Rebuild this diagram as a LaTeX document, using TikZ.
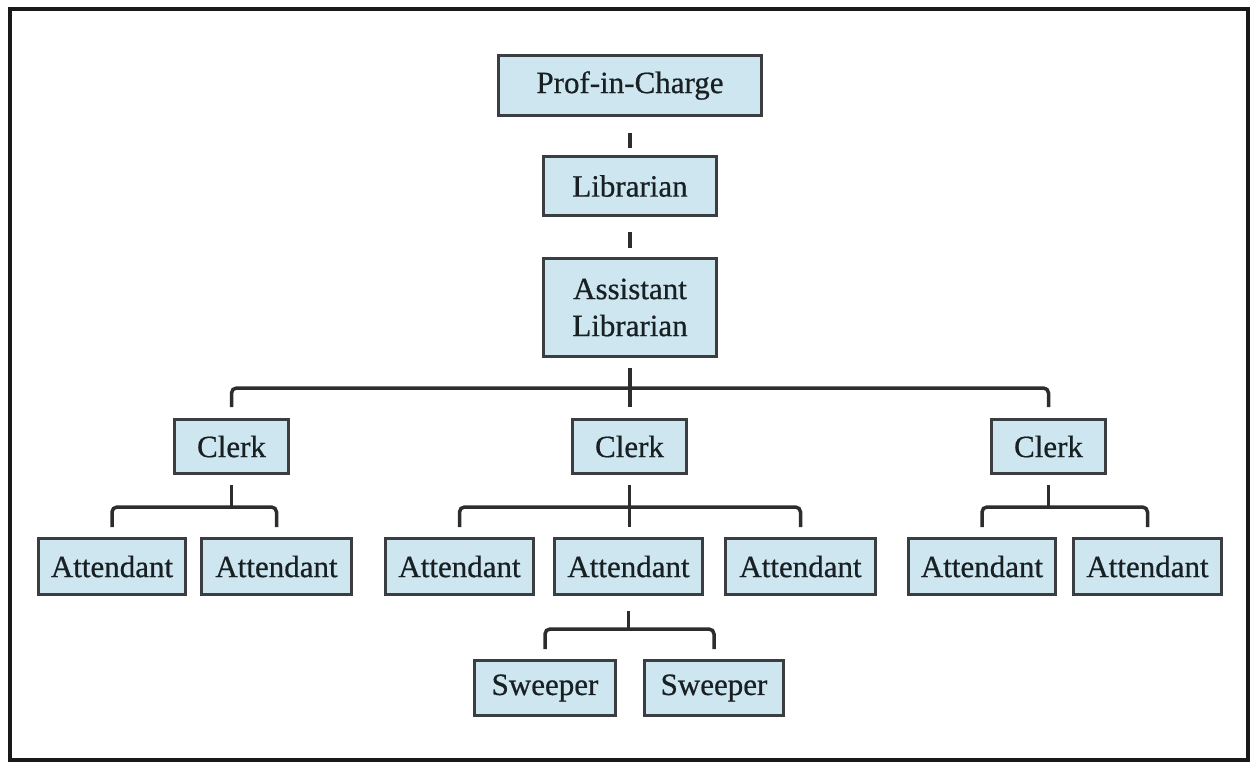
\documentclass[tikz,border=0pt]{standalone}
\usepackage{fontspec}
\setmainfont{Liberation Serif}
\newfontfamily\boxfont[FakeBold=0.6]{Liberation Serif}
\definecolor{boxfill}{RGB}{206,230,239}
\definecolor{boxline}{RGB}{58,62,64}
\definecolor{txt}{RGB}{24,32,36}
\definecolor{conncol}{RGB}{45,45,45}
\begin{document}
\begin{tikzpicture}[x=1pt,y=-1pt,
  orgbox/.style={draw=boxline,fill=boxfill,line width=3pt,inner sep=0pt,
    text=txt,font=\boxfont\fontsize{31}{37}\selectfont,align=center,anchor=center},
  conn/.style={draw=conncol,line width=3.5pt,rounded corners=5pt},
  frame/.style={draw=black!90,line width=4pt}]
\useasboundingbox (0,0) rectangle (1251,764);
\draw[frame] (10,8.5) rectangle (1248,760);
% top chain
\node[orgbox,minimum width=263pt,minimum height=60pt] (prof) at (630,85.5) {Prof-in-Charge};
\node[orgbox,minimum width=173pt,minimum height=59pt] (lib) at (630,186) {Librarian};
\node[orgbox,minimum width=173pt,minimum height=98pt] (asst) at (630,307.5) {Assistant\\Librarian};
% clerks
\node[orgbox,minimum width=114pt,minimum height=54pt] (c1) at (231.5,446.5) {Clerk};
\node[orgbox,minimum width=114pt,minimum height=54pt] (c2) at (629.5,446.5) {Clerk};
\node[orgbox,minimum width=114pt,minimum height=54pt] (c3) at (1048.5,446.5) {Clerk};
% attendants
\node[orgbox,minimum width=147pt,minimum height=56pt] (a1) at (112,566.5) {Attendant};
\node[orgbox,minimum width=150pt,minimum height=56pt] (a2) at (276.5,566.5) {Attendant};
\node[orgbox,minimum width=148pt,minimum height=56pt] (a3) at (459.5,566.5) {Attendant};
\node[orgbox,minimum width=148pt,minimum height=56pt] (a4) at (628.5,566.5) {Attendant};
\node[orgbox,minimum width=150pt,minimum height=56pt] (a5) at (800.5,566.5) {Attendant};
\node[orgbox,minimum width=147pt,minimum height=56pt] (a6) at (982,566.5) {Attendant};
\node[orgbox,minimum width=148pt,minimum height=56pt] (a7) at (1147.5,566.5) {Attendant};
% sweepers
\node[orgbox,minimum width=141pt,minimum height=55pt] (s1) at (545,688) {Sweeper};
\node[orgbox,minimum width=139pt,minimum height=55pt] (s2) at (714,688) {Sweeper};
% connectors
\draw[conn] ([yshift=-16pt]prof.south) -- ([yshift=7pt]lib.north);
\draw[conn] ([yshift=-15pt]lib.south) -- ([yshift=9pt]asst.north);
\draw[conn] ([yshift=-10pt]asst.south) -- ([yshift=11pt]asst.south |- c2.north);
\draw[conn] ([yshift=11pt]c1.north) |- ([yshift=30pt]c3.north) -- ([yshift=11pt]c3.north);
\draw[conn] ([yshift=-10pt]c1.south) -- ([yshift=30pt]c1.south |- a1.north);
\draw[conn] ([yshift=10pt]a1.north) |- ([yshift=30pt]a2.north) -- ([yshift=10pt]a2.north);
\draw[conn] ([yshift=-10pt]c2.south) -- ([yshift=10pt]c2.south |- a4.north);
\draw[conn] ([yshift=10pt]a3.north) |- ([yshift=30pt]a5.north) -- ([yshift=10pt]a5.north);
\draw[conn] ([yshift=-10pt]c3.south) -- ([yshift=30pt]c3.south |- a6.north);
\draw[conn] ([yshift=10pt]a6.north) |- ([yshift=30pt]a7.north) -- ([yshift=10pt]a7.north);
\draw[conn] ([yshift=-15pt]a4.south) -- ([yshift=30pt]a4.south |- s1.north);
\draw[conn] ([yshift=10pt]s1.north) |- ([yshift=30pt]s2.north) -- ([yshift=10pt]s2.north);
\end{tikzpicture}
\end{document}
